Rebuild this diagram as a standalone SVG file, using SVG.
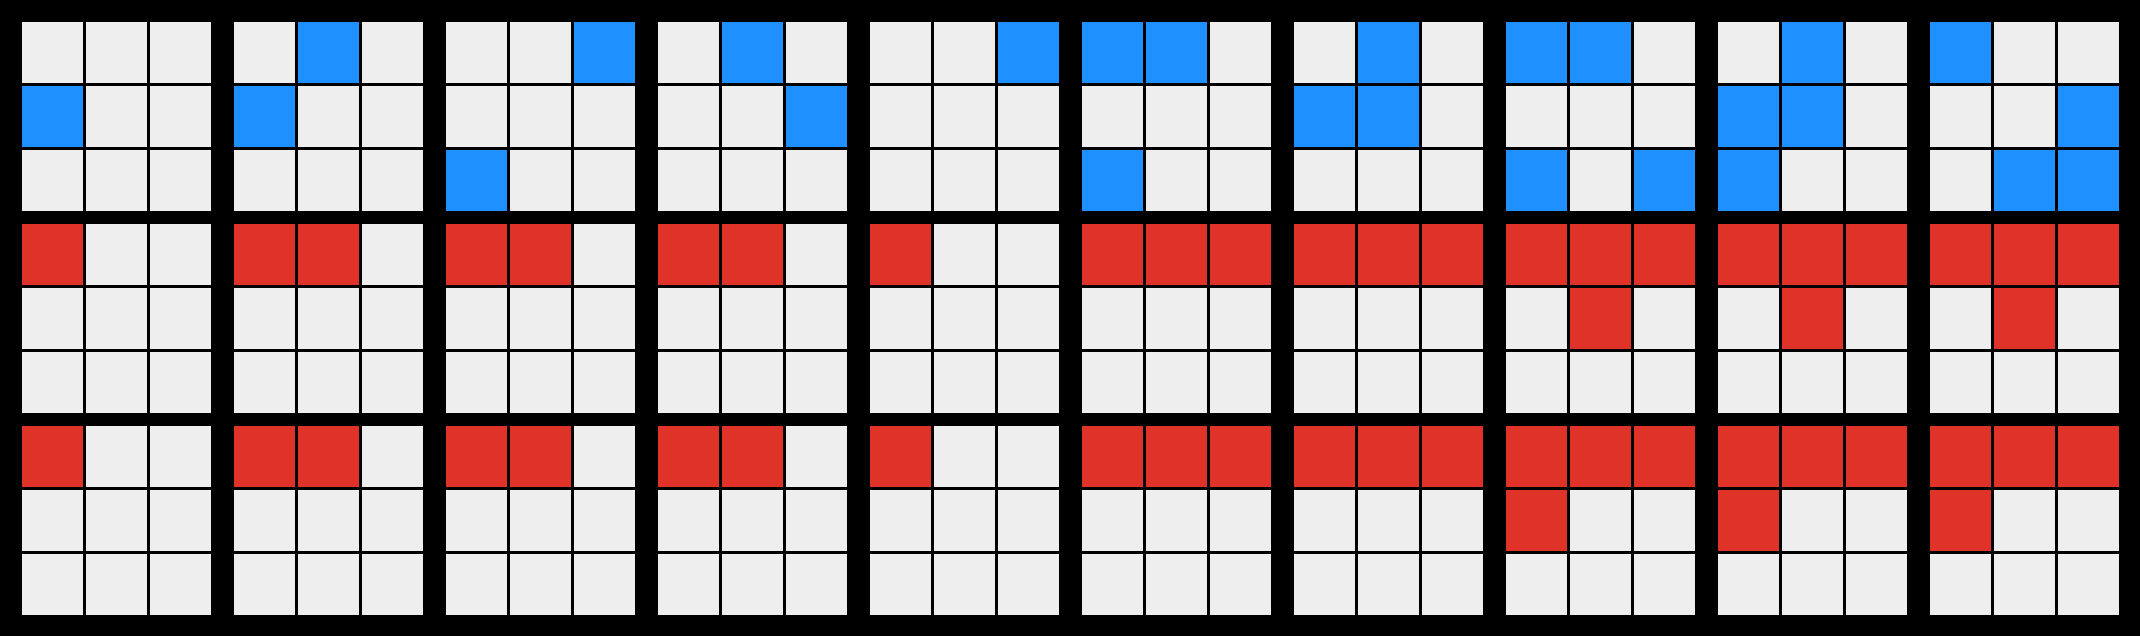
<svg xmlns="http://www.w3.org/2000/svg" width="2140" height="636" viewBox="0 0 2140 636">
<style>
.e{fill:#eeeeee}
.b{fill:#1e90ff}
.r{fill:#df3329}
</style>
<defs>
<g id="grid">
<rect class="e" x="0" y="0" width="61" height="61"/><rect class="e" x="64" y="0" width="61" height="61"/><rect class="e" x="128" y="0" width="61" height="61"/>
<rect class="e" x="0" y="64" width="61" height="61"/><rect class="e" x="64" y="64" width="61" height="61"/><rect class="e" x="128" y="64" width="61" height="61"/>
<rect class="e" x="0" y="128" width="61" height="61"/><rect class="e" x="64" y="128" width="61" height="61"/><rect class="e" x="128" y="128" width="61" height="61"/>
</g>
</defs>
<rect x="0" y="0" width="2140" height="636" fill="#000000"/>

<!-- Row 1 (blue) -->
<g id="b1-0" transform="translate(22,22)"><use href="#grid"/><rect class="b" x="0" y="64" width="61" height="61"/></g>
<g id="b1-1" transform="translate(234,22)"><use href="#grid"/><rect class="b" x="64" y="0" width="61" height="61"/><rect class="b" x="0" y="64" width="61" height="61"/></g>
<g id="b1-2" transform="translate(446,22)"><use href="#grid"/><rect class="b" x="128" y="0" width="61" height="61"/><rect class="b" x="0" y="128" width="61" height="61"/></g>
<g id="b1-3" transform="translate(658,22)"><use href="#grid"/><rect class="b" x="64" y="0" width="61" height="61"/><rect class="b" x="128" y="64" width="61" height="61"/></g>
<g id="b1-4" transform="translate(870,22)"><use href="#grid"/><rect class="b" x="128" y="0" width="61" height="61"/></g>
<g id="b1-5" transform="translate(1082,22)"><use href="#grid"/><rect class="b" x="0" y="0" width="61" height="61"/><rect class="b" x="64" y="0" width="61" height="61"/><rect class="b" x="0" y="128" width="61" height="61"/></g>
<g id="b1-6" transform="translate(1294,22)"><use href="#grid"/><rect class="b" x="64" y="0" width="61" height="61"/><rect class="b" x="0" y="64" width="61" height="61"/><rect class="b" x="64" y="64" width="61" height="61"/></g>
<g id="b1-7" transform="translate(1506,22)"><use href="#grid"/><rect class="b" x="0" y="0" width="61" height="61"/><rect class="b" x="64" y="0" width="61" height="61"/><rect class="b" x="0" y="128" width="61" height="61"/><rect class="b" x="128" y="128" width="61" height="61"/></g>
<g id="b1-8" transform="translate(1718,22)"><use href="#grid"/><rect class="b" x="64" y="0" width="61" height="61"/><rect class="b" x="0" y="64" width="61" height="61"/><rect class="b" x="64" y="64" width="61" height="61"/><rect class="b" x="0" y="128" width="61" height="61"/></g>
<g id="b1-9" transform="translate(1930,22)"><use href="#grid"/><rect class="b" x="0" y="0" width="61" height="61"/><rect class="b" x="128" y="64" width="61" height="61"/><rect class="b" x="64" y="128" width="61" height="61"/><rect class="b" x="128" y="128" width="61" height="61"/></g>

<!-- Row 2 (red) -->
<g id="b2-0" transform="translate(22,224)"><use href="#grid"/><rect class="r" x="0" y="0" width="61" height="61"/></g>
<g id="b2-1" transform="translate(234,224)"><use href="#grid"/><rect class="r" x="0" y="0" width="61" height="61"/><rect class="r" x="64" y="0" width="61" height="61"/></g>
<g id="b2-2" transform="translate(446,224)"><use href="#grid"/><rect class="r" x="0" y="0" width="61" height="61"/><rect class="r" x="64" y="0" width="61" height="61"/></g>
<g id="b2-3" transform="translate(658,224)"><use href="#grid"/><rect class="r" x="0" y="0" width="61" height="61"/><rect class="r" x="64" y="0" width="61" height="61"/></g>
<g id="b2-4" transform="translate(870,224)"><use href="#grid"/><rect class="r" x="0" y="0" width="61" height="61"/></g>
<g id="b2-5" transform="translate(1082,224)"><use href="#grid"/><rect class="r" x="0" y="0" width="61" height="61"/><rect class="r" x="64" y="0" width="61" height="61"/><rect class="r" x="128" y="0" width="61" height="61"/></g>
<g id="b2-6" transform="translate(1294,224)"><use href="#grid"/><rect class="r" x="0" y="0" width="61" height="61"/><rect class="r" x="64" y="0" width="61" height="61"/><rect class="r" x="128" y="0" width="61" height="61"/></g>
<g id="b2-7" transform="translate(1506,224)"><use href="#grid"/><rect class="r" x="0" y="0" width="61" height="61"/><rect class="r" x="64" y="0" width="61" height="61"/><rect class="r" x="128" y="0" width="61" height="61"/><rect class="r" x="64" y="64" width="61" height="61"/></g>
<g id="b2-8" transform="translate(1718,224)"><use href="#grid"/><rect class="r" x="0" y="0" width="61" height="61"/><rect class="r" x="64" y="0" width="61" height="61"/><rect class="r" x="128" y="0" width="61" height="61"/><rect class="r" x="64" y="64" width="61" height="61"/></g>
<g id="b2-9" transform="translate(1930,224)"><use href="#grid"/><rect class="r" x="0" y="0" width="61" height="61"/><rect class="r" x="64" y="0" width="61" height="61"/><rect class="r" x="128" y="0" width="61" height="61"/><rect class="r" x="64" y="64" width="61" height="61"/></g>

<!-- Row 3 (red) -->
<g id="b3-0" transform="translate(22,426)"><use href="#grid"/><rect class="r" x="0" y="0" width="61" height="61"/></g>
<g id="b3-1" transform="translate(234,426)"><use href="#grid"/><rect class="r" x="0" y="0" width="61" height="61"/><rect class="r" x="64" y="0" width="61" height="61"/></g>
<g id="b3-2" transform="translate(446,426)"><use href="#grid"/><rect class="r" x="0" y="0" width="61" height="61"/><rect class="r" x="64" y="0" width="61" height="61"/></g>
<g id="b3-3" transform="translate(658,426)"><use href="#grid"/><rect class="r" x="0" y="0" width="61" height="61"/><rect class="r" x="64" y="0" width="61" height="61"/></g>
<g id="b3-4" transform="translate(870,426)"><use href="#grid"/><rect class="r" x="0" y="0" width="61" height="61"/></g>
<g id="b3-5" transform="translate(1082,426)"><use href="#grid"/><rect class="r" x="0" y="0" width="61" height="61"/><rect class="r" x="64" y="0" width="61" height="61"/><rect class="r" x="128" y="0" width="61" height="61"/></g>
<g id="b3-6" transform="translate(1294,426)"><use href="#grid"/><rect class="r" x="0" y="0" width="61" height="61"/><rect class="r" x="64" y="0" width="61" height="61"/><rect class="r" x="128" y="0" width="61" height="61"/></g>
<g id="b3-7" transform="translate(1506,426)"><use href="#grid"/><rect class="r" x="0" y="0" width="61" height="61"/><rect class="r" x="64" y="0" width="61" height="61"/><rect class="r" x="128" y="0" width="61" height="61"/><rect class="r" x="0" y="64" width="61" height="61"/></g>
<g id="b3-8" transform="translate(1718,426)"><use href="#grid"/><rect class="r" x="0" y="0" width="61" height="61"/><rect class="r" x="64" y="0" width="61" height="61"/><rect class="r" x="128" y="0" width="61" height="61"/><rect class="r" x="0" y="64" width="61" height="61"/></g>
<g id="b3-9" transform="translate(1930,426)"><use href="#grid"/><rect class="r" x="0" y="0" width="61" height="61"/><rect class="r" x="64" y="0" width="61" height="61"/><rect class="r" x="128" y="0" width="61" height="61"/><rect class="r" x="0" y="64" width="61" height="61"/></g>
</svg>
